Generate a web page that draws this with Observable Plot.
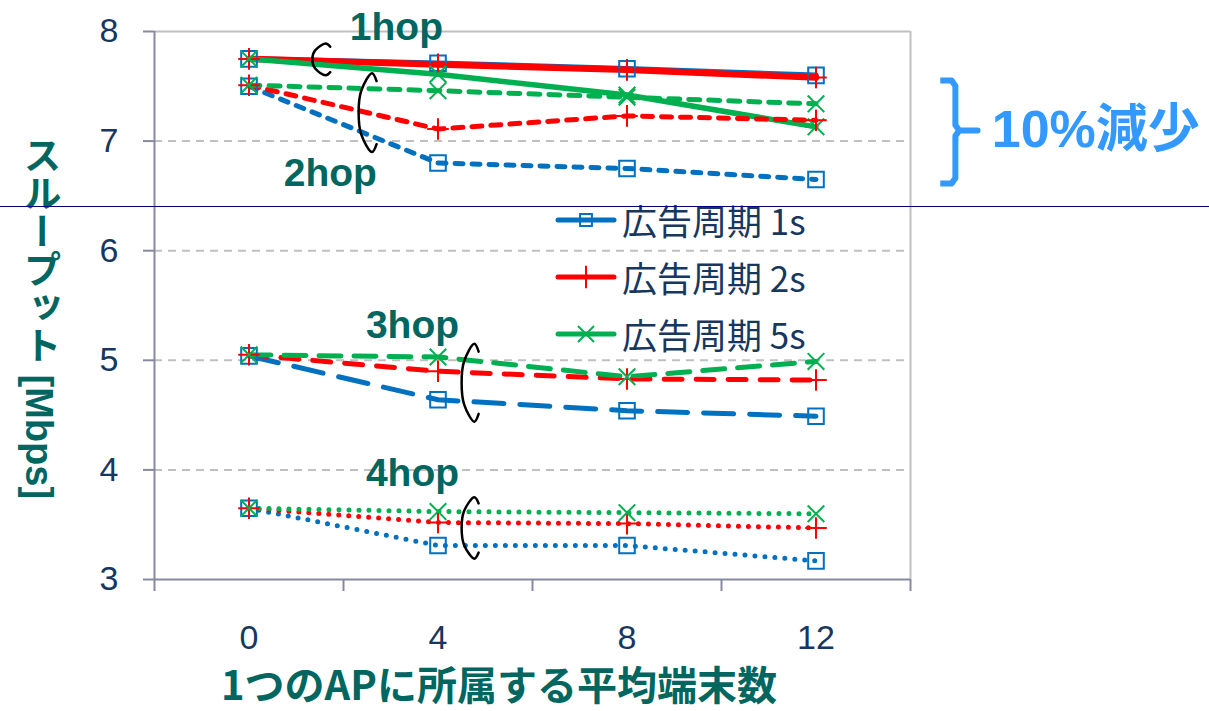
<!DOCTYPE html>
<html><head><meta charset="utf-8">
<script src="https://cdn.jsdelivr.net/npm/d3@7"></script>
<script src="https://cdn.jsdelivr.net/npm/@observablehq/plot@0.6"></script>
<style>
body{margin:0;background:#fff;}
#wrap{position:relative;width:1209px;height:711px;overflow:hidden;background:#fff;}
#wrap > svg{position:absolute;left:0;top:0;}
.ytitle{position:absolute;left:20px;top:136px;writing-mode:vertical-rl;font:bold 38px "Liberation Sans","Noto Sans CJK JP",sans-serif;color:#00665F;line-height:1;white-space:nowrap;}
.xtitle{position:absolute;left:221px;top:662px;font:bold 40px "Noto Sans CJK JP","Liberation Sans",sans-serif;color:#00665F;line-height:1.05;white-space:nowrap;}
.sep{position:absolute;left:0;top:206px;width:1209px;height:1.3px;background:#000080;}
.legend{position:absolute;left:555px;top:191px;}
.legend .row{display:flex;align-items:center;height:57px;}
.legend .row svg{display:block;}
.legend .row span{font:35px "Noto Sans CJK JP","Liberation Sans",sans-serif;color:#17375E;margin-left:5px;line-height:1;}
</style></head><body>
<div id="wrap"></div>
<script>
// ---- data ----
const xValues = [0, 4, 8, 12];
const xTickLabels = ["0", "4", "8", "12"];
const yTicks = [3, 4, 5, 6, 7, 8];
const hopNames = ["1hop", "2hop", "3hop", "4hop"];
const periodNames = ["広告周期 1s", "広告周期 2s", "広告周期 5s"];
const periodColors = ["#0070C0", "#FF0000", "#00B050"];
const periodSymbols = ["square", "plus", "times"];

const hop1_1s = [7.75, 7.71, 7.66, 7.60];
const hop1_2s = [7.75, 7.70, 7.65, 7.58];
const hop1_5s = [7.75, 7.61, 7.42, 7.13];
const hop2_1s = [7.50, 6.80, 6.75, 6.65];
const hop2_2s = [7.51, 7.11, 7.23, 7.19];
const hop2_5s = [7.51, 7.46, 7.40, 7.34];
const hop3_1s = [5.04, 4.64, 4.54, 4.49];
const hop3_2s = [5.05, 4.90, 4.83, 4.82];
const hop3_5s = [5.05, 5.03, 4.85, 4.99];
const hop4_1s = [3.65, 3.31, 3.31, 3.17];
const hop4_2s = [3.65, 3.52, 3.51, 3.47];
const hop4_5s = [3.65, 3.62, 3.61, 3.60];

// annotation anchors (data units)
const hopLabelX = [3.12, 1.72, 3.46, 3.46];
const hopLabelY = [8.04, 6.70, 5.32, 3.97];
const bracketLeft = [1.34, 2.32, 4.50, 4.50];
const bracketRight = [1.72, 2.70, 4.86, 4.86];
const bracketTop = [7.89, 7.62, 5.15, 3.75];
const bracketBottom = [7.60, 6.90, 4.44, 3.19];
const noteText = "10%減少";
const braceLeft = 14.63, braceMid = 14.95, braceNub = 15.42;
const braceTop = 7.553, braceCenter = 7.097, braceBottom = 6.613;

// ---- build ----
const seriesValues = [
  [hop1_1s, hop1_2s, hop1_5s],
  [hop2_1s, hop2_2s, hop2_5s],
  [hop3_1s, hop3_2s, hop3_5s],
  [hop4_1s, hop4_2s, hop4_5s]
];
const hopStyles = [
  [{dash: null}, {dash: null}, {dash: null}],
  [{dash: "8,9"}, {dash: "10,9"}, {dash: "11,9"}],
  [{dash: "30,16"}, {dash: "18,14"}, {dash: "22,13"}],
  [{dash: "0,10"}, {dash: "0,10"}, {dash: "0,10"}]
];

const navy = "#17375E", axisGrey = "#868AA0", gridGrey = "#C0C0C0", teal = "#00665F";
const font = "Liberation Sans, Arial, Noto Sans CJK JP, sans-serif";

const marks = [
  Plot.ruleY(yTicks.filter(d => d > 3 && d < 8), {stroke: gridGrey, strokeWidth: 2, strokeDasharray: "8,6"}),
  Plot.ruleY([8], {stroke: gridGrey, strokeWidth: 2}),
  Plot.ruleX([14], {stroke: gridGrey, strokeWidth: 2}),
  Plot.ruleX([-2], {stroke: axisGrey, strokeWidth: 2}),
  Plot.ruleY([3], {stroke: axisGrey, strokeWidth: 2}),
  Plot.axisY({ticks: yTicks, tickSize: 11, tickPadding: 25, fontSize: 34, fill: navy, stroke: axisGrey, strokeWidth: 2, label: null, tickFormat: d => String(d)}),
  Plot.axisX({ticks: [-2, 2, 6, 10, 14], tickSize: 12, tickFormat: () => "", stroke: axisGrey, strokeWidth: 2, label: null}),
  Plot.axisX({ticks: xValues, tickSize: 0, tickPadding: 45, fontSize: 34, fill: navy, label: null, tickFormat: d => xTickLabels[xValues.indexOf(d)]})
];

seriesValues.forEach((hopSeries, h) => {
  hopSeries.forEach((vals, p) => {
    const rows = xValues.map((x, i) => ({x, y: vals[i], hop: hopNames[h], period: periodNames[p]}));
    const st = hopStyles[h][p];
    marks.push(Plot.line(rows, {x: "x", y: "y", stroke: periodColors[p], strokeWidth: h === 0 ? (p === 1 ? 6.5 : 5.5) : 5,
      strokeDasharray: st.dash, strokeLinecap: "round", strokeLinejoin: "round"}));
  });
});
seriesValues.forEach((hopSeries, h) => {
  hopSeries.forEach((vals, p) => {
    const rows = xValues.map((x, i) => ({x, y: vals[i]}));
    marks.push(Plot.dot(rows, {x: "x", y: "y", symbol: periodSymbols[p], r: p === 0 ? 8.8 : (p === 1 ? 7 : 7.6),
      stroke: periodColors[p], fill: "none", strokeWidth: 2}));
  });
});

// hop labels
marks.push(Plot.text(hopNames.map((t, i) => ({t, x: hopLabelX[i], y: hopLabelY[i]})),
  {x: "x", y: "y", text: "t", fontSize: 39, fontWeight: "bold", fill: teal}));

// brackets
hopNames.forEach((_, i) => {
  const xl = bracketLeft[i], xr = bracketRight[i], yt = bracketTop[i], yb = bracketBottom[i];
  const h = yt - yb, w = xr - xl;
  const pts = [
    [xr, yt - 0.10 * h], [xr - 0.25 * w, yt], [xl + 0.15 * w, yt - 0.22 * h],
    [xl, yt - 0.5 * h], [xl + 0.15 * w, yb + 0.22 * h], [xr - 0.25 * w, yb], [xr, yb + 0.10 * h]
  ].map(([x, y]) => ({x, y}));
  marks.push(Plot.line(pts, {x: "x", y: "y", curve: "catmull-rom", stroke: "black", strokeWidth: 2.5}));
});

// brace + note
const bracePts = [
  [braceLeft, braceTop], [braceMid - 0.08, braceTop], [braceMid, braceTop - 0.05],
  [braceMid, braceCenter + 0.05], [braceMid + 0.08, braceCenter], [braceNub, braceCenter],
  [braceMid + 0.08, braceCenter], [braceMid, braceCenter - 0.05],
  [braceMid, braceBottom + 0.05], [braceMid - 0.08, braceBottom], [braceLeft, braceBottom]
].map(([x, y]) => ({x, y}));
marks.push(Plot.line(bracePts, {x: "x", y: "y", stroke: "#3399FF", strokeWidth: 6, strokeLinejoin: "round", strokeLinecap: "butt"}));
marks.push(Plot.text([{t: noteText, x: 15.72, y: braceCenter}], {x: "x", y: "y", text: "t", textAnchor: "start",
  fontSize: 52, fontWeight: "bold", fill: "#3399FF"}));

const chart = Plot.plot({
  width: 1209, height: 711,
  marginLeft: 154, marginRight: 299, marginTop: 31, marginBottom: 132,
  x: {domain: [-2, 14]},
  y: {domain: [3, 8]},
  style: {fontFamily: font, background: "white", overflow: "visible"},
  marks
});

const wrap = document.getElementById("wrap");
wrap.appendChild(chart);

// y title
const yt = document.createElement("div");
yt.className = "ytitle";
yt.textContent = "スループット [Mbps]";
wrap.appendChild(yt);

// x title
const xt = document.createElement("div");
xt.className = "xtitle";
xt.textContent = "1つのAPに所属する平均端末数";
wrap.appendChild(xt);

// legend
const lg = document.createElement("div");
lg.className = "legend";
periodNames.forEach((name, p) => {
  const row = document.createElement("div");
  row.className = "row";
  const s = d3.create("svg").attr("width", 62).attr("height", 24);
  s.append("line").attr("x1", 3).attr("x2", 59).attr("y1", 12).attr("y2", 12)
    .attr("stroke", periodColors[p]).attr("stroke-width", 5).attr("stroke-linecap", "round");
  const sym = {square: d3.symbolSquare, plus: d3.symbolPlus, times: d3.symbolTimes}[periodSymbols[p]];
  s.append("path").attr("transform", "translate(31,12)")
    .attr("d", d3.symbol(sym, p === 0 ? 140 : 170)())
    .attr("fill", "none").attr("stroke", periodColors[p]).attr("stroke-width", 2);
  row.appendChild(s.node());
  const sp = document.createElement("span");
  sp.textContent = name;
  row.appendChild(sp);
  lg.appendChild(row);
});
wrap.appendChild(lg);

// separator line
const sep = document.createElement("div");
sep.className = "sep";
wrap.appendChild(sep);
</script>
</body></html>
